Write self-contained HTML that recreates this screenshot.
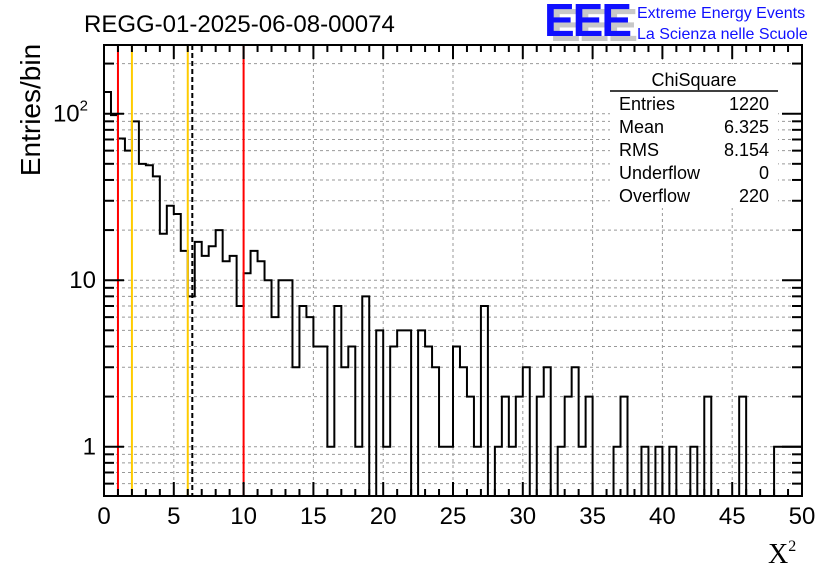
<!DOCTYPE html>
<html><head><meta charset="utf-8"><style>
body{margin:0;background:#fff;}
svg{display:block;font-family:"Liberation Sans",sans-serif;}
</style></head><body>
<svg id="c" width="836" height="572" viewBox="0 0 836 572" xmlns="http://www.w3.org/2000/svg">
<rect width="836" height="572" fill="#fff"/>
<g id="grid"></g>
<g id="marks"></g>
<g id="axes"></g>
<text x="84" y="32" font-size="24">REGG-01-2025-06-08-00074</text>
<text transform="translate(40,110) rotate(-90)" text-anchor="middle" font-size="28">Entries/bin</text>
<text x="768" y="563" font-size="28" font-family="Liberation Serif,serif">X<tspan font-size="16" dy="-12">2</tspan></text>
<g>
<text x="550" y="41" font-size="46" font-weight="bold" fill="#c8c8c8" letter-spacing="-2">EEE</text>
<text x="544" y="36" font-size="46" font-weight="bold" fill="#1010ff" letter-spacing="-2">EEE</text>
<text x="637" y="18" font-size="16" fill="#1010ff">Extreme Energy Events</text>
<text x="637" y="39" font-size="16" fill="#1010ff">La Scienza nelle Scuole</text>
</g>
<g font-size="18">
<rect x="610" y="64" width="168" height="144" fill="#fff"/>
<text x="694" y="86" text-anchor="middle">ChiSquare</text>
<line x1="610" y1="91" x2="778" y2="91" stroke="#000" stroke-width="1.5"/>
<text x="619" y="110">Entries</text><text x="769" y="110" text-anchor="end">1220</text>
<text x="619" y="133">Mean</text><text x="769" y="133" text-anchor="end">6.325</text>
<text x="619" y="156">RMS</text><text x="769" y="156" text-anchor="end">8.154</text>
<text x="619" y="179">Underflow</text><text x="769" y="179" text-anchor="end">0</text>
<text x="619" y="202">Overflow</text><text x="769" y="202" text-anchor="end">220</text>
</g>
</svg>
<script>
const binCounts=[135,98,71,60,90,50,49,42,19,28,25,15,8,17,14,16,20,13,14,7,11,15,13,10,6,10,10,3,7,6,4,4,1,7,3,4,1,8,0,5,1,4,5,5,0,5,4,3,1,1,4,3,2,1,7,0,1,2,1,2,3,0,2,3,0,1,2,3,1,2,0,0,0,1,2,0,0,1,0,1,0,1,0,0,1,0,2,0,0,0,0,2,0,0,0,0,1,1,1,1];
const binWidth=0.5;
const xTicks=[0,5,10,15,20,25,30,35,40,45,50];
const yMajor=[1,10,100];
const yMajorLabels=["1","10","10²"];
const cutLines=[{v:1,c:"#ff0000",n:"cut-line-1"},{v:2,c:"#ffcc00",n:"cut-line-2"},{v:6,c:"#ffcc00",n:"cut-line-6"},{v:10,c:"#ff0000",n:"cut-line-10"}];
const meanValue=6.325;
const NS="http://www.w3.org/2000/svg";
const L=104,R=802,T=45,B=496;
const X=v=>L+v*(R-L)/50;
const Y=v=>446.7-166.5*Math.log10(v);
function mk(tag,attrs,parent){const e=document.createElementNS(NS,tag);for(const k in attrs)e.setAttribute(k,attrs[k]);parent.appendChild(e);return e;}
const grid=document.getElementById('grid'),marks=document.getElementById('marks'),axes=document.getElementById('axes');
for(const t of xTicks){if(t===0||t===50)continue;const g=mk('line',{x1:X(t),x2:X(t),y1:T,y2:B,stroke:'#999','stroke-dasharray':'3,3'},grid);

}
const yMinor=[];for(const d of [0.1,1,10,100])for(let m=1;m<10;m++){const v=d*m;if(Y(v)>T+1&&Y(v)<B-1)yMinor.push(v);}
for(const v of yMinor){const g=mk('line',{x1:L,x2:R,y1:Y(v),y2:Y(v),stroke:'#999','stroke-dasharray':'3,3'},grid);

}
let d=`M${X(0)},${B}`;
binCounts.forEach((c,i)=>{const y=c>0?Y(c):B;d+=` L${X(i*binWidth)},${y} L${X((i+1)*binWidth)},${y}`;});
d+=` L${X(50)},${B}`;
const h=mk('path',{d:d,fill:'none',stroke:'#000','stroke-width':2},marks);


for(const c of cutLines){const l=mk('line',{x1:X(c.v),x2:X(c.v),y1:T,y2:B,stroke:c.c,'stroke-width':2},marks);

}
const ml=mk('line',{x1:X(meanValue),x2:X(meanValue),y1:T,y2:B,stroke:'#000','stroke-width':2,'stroke-dasharray':'5,3'},marks);


const fr=mk('rect',{x:L,y:T,width:R-L,height:B-T,fill:'none',stroke:'#000','stroke-width':2},axes);


for(let v=0;v<=50;v+=1){const big=v%5===0;const len=big?14:7;
mk('line',{x1:X(v),x2:X(v),y1:B,y2:B-len,stroke:'#000','stroke-width':2},axes);
mk('line',{x1:X(v),x2:X(v),y1:T,y2:T+len,stroke:'#000','stroke-width':2},axes);}
xTicks.forEach(t=>{const tx=mk('text',{x:X(t),y:524,'font-size':24,'text-anchor':'middle'},axes);tx.textContent=t;

});
for(const v of yMinor){const big=yMajor.includes(v);const len=big?20:10;
mk('line',{x1:L,x2:L+len,y1:Y(v),y2:Y(v),stroke:'#000','stroke-width':2},axes);
mk('line',{x1:R,x2:R-len,y1:Y(v),y2:Y(v),stroke:'#000','stroke-width':2},axes);}
yMajor.forEach((v,i)=>{const tx=mk('text',{x:96,y:Y(v)+8,'font-size':24,'text-anchor':'end'},axes);
if(i===2){tx.textContent='10';const s=mk('tspan',{'font-size':15,dy:-11},tx);s.textContent='2';tx.setAttribute('x',88);}else tx.textContent=yMajorLabels[i];

});
</script>
</body></html>
